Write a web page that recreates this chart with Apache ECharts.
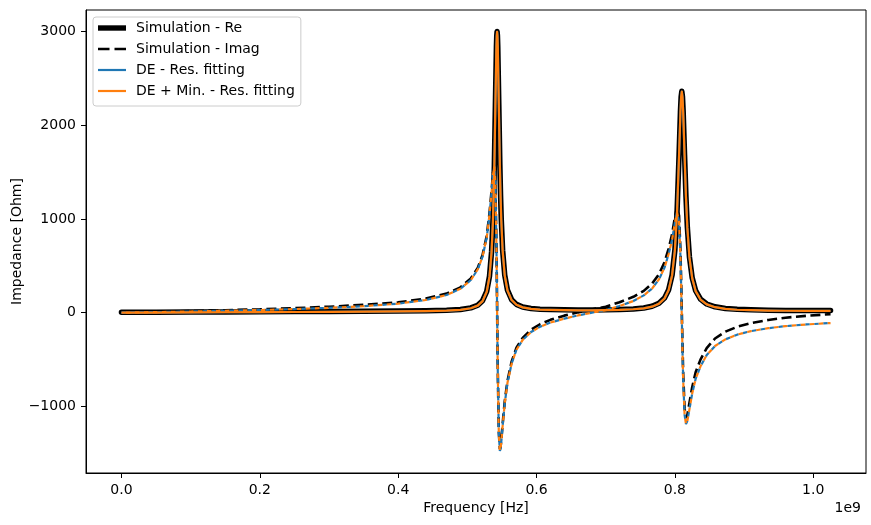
<!DOCTYPE html>
<html>
<head>
<meta charset="utf-8">
<title>Impedance</title>
<script src="https://cdn.jsdelivr.net/npm/echarts@6/dist/echarts.min.js"></script>
<style>
  html, body { margin: 0; padding: 0; background: #fff; }
  #chart { width: 871px; height: 525px; }
</style>
</head>
<body>
<div id="chart"></div>
<script>
// frequency in units of 1e9 Hz
var freq = [0, 0.05, 0.1, 0.15, 0.2, 0.25, 0.3, 0.35, 0.4, 0.44,
  0.47, 0.49, 0.505, 0.515, 0.522, 0.528, 0.532, 0.535, 0.537, 0.539,
  0.5405, 0.542, 0.5425, 0.543, 0.5435, 0.544, 0.5455, 0.547, 0.548, 0.549,
  0.551, 0.554, 0.558, 0.564, 0.571, 0.58, 0.592, 0.605, 0.62, 0.64,
  0.66, 0.68, 0.70, 0.72, 0.74, 0.755, 0.767, 0.777, 0.785, 0.791,
  0.796, 0.80, 0.803, 0.806, 0.808, 0.809, 0.81, 0.811, 0.812, 0.814,
  0.816, 0.818, 0.821, 0.825, 0.83, 0.837, 0.846, 0.858, 0.873, 0.89,
  0.91, 0.935, 0.96, 0.99, 1.025];

var simRe = [5, 6, 7, 9, 10, 12, 13, 16, 18, 21,
  27, 35, 52, 80, 128, 228, 389, 651, 985, 1568,
  2212, 2838, 2959, 3001, 2959, 2839, 2218, 1581, 1253, 1001,
  667, 403, 241, 139, 89, 61, 46, 38, 34, 31,
  30, 30, 31, 34, 41, 51, 69, 101, 156, 246,
  404, 671, 1052, 1678, 2143, 2304, 2363, 2304, 2145, 1683,
  1242, 912, 597, 373, 235, 145, 93, 63, 46, 36,
  31, 27, 25, 24, 23];

var simIm = [0, 9, 17, 27, 37, 49, 64, 84, 111, 151,
  204, 271, 365, 478, 616, 819, 1061, 1301, 1483, 1579,
  1400, 748, 420, 62, -297, -626, -1274, -1455, -1433, -1364,
  -1188, -950, -728, -521, -373, -268, -182, -123, -76, -31,
  4, 35, 64, 112, 170, 233, 310, 411, 539, 685,
  840, 1019, 1129, 1038, 668, 361, 8, -347, -652, -1021,
  -1124, -1090, -964, -795, -635, -500, -377, -275, -202, -150,
  -110, -77, -53, -33, -15];

var fitRe = [1, 2, 3, 5, 6, 8, 9, 12, 14, 17,
  23, 31, 48, 76, 124, 224, 385, 647, 981, 1564,
  2208, 2834, 2955, 2997, 2955, 2835, 2214, 1577, 1249, 997,
  663, 399, 237, 135, 85, 57, 42, 34, 30, 27,
  26, 26, 27, 30, 37, 47, 65, 97, 152, 242,
  400, 667, 1048, 1674, 2139, 2300, 2359, 2300, 2141, 1679,
  1238, 908, 593, 369, 231, 141, 89, 59, 42, 32,
  27, 23, 21, 20, 19];

var fitIm = [0, 7, 13, 21, 29, 39, 52, 70, 97, 136,
  189, 256, 349, 462, 599, 802, 1043, 1283, 1465, 1561,
  1382, 730, 402, 44, -315, -644, -1293, -1474, -1452, -1383,
  -1207, -970, -748, -543, -395, -290, -206, -150, -105, -63,
  -29, 1, 28, 72, 125, 185, 258, 356, 481, 627,
  780, 959, 1069, 976, 606, 299, -56, -411, -716, -1086,
  -1189, -1156, -1031, -863, -705, -572, -452, -355, -284, -234,
  -196, -165, -143, -125, -110];

var xTicks = [0, 0.2, 0.4, 0.6, 0.8, 1.0];
var yTicks = [-1000, 0, 1000, 2000, 3000];

function pairs(ys) {
  return freq.map(function (f, i) { return [f, ys[i]]; });
}

var FONT = 'DejaVu Sans';
var BLUE = '#1f77b4', ORANGE = '#ff7f0e';

// legend handles: the leading moves fix the 28x14 box, the filled part is the stroke
var ICON_THICK = 'path://M0,0M28,14M0,4.3H28V9.7H0Z';
var ICON_DASH = 'path://M0,0M28,14M0,5.7H11.5V8.3H0Z M16.5,5.7H28V8.3H16.5Z';
var ICON_THIN = 'path://M0,0M28,14M0,5.9H28V8.1H0Z';

var chart = echarts.init(document.getElementById('chart'), null, { renderer: 'canvas' });

var option = {
  animation: false,
  textStyle: { fontFamily: FONT },
  grid: {
    left: 86, right: 5, top: 10, bottom: 52,
    outerBoundsMode: 'none',
    show: true, borderColor: '#000', borderWidth: 1, backgroundColor: 'transparent'
  },
  legend: {
    orient: 'vertical',
    left: 93, top: 17,
    data: [
      { name: 'Simulation - Re', icon: ICON_THICK },
      { name: 'Simulation - Imag', icon: ICON_DASH },
      { name: 'DE - Res. fitting', icon: ICON_THIN },
      { name: 'DE + Min. - Res. fitting', icon: ICON_THIN }
    ],
    itemWidth: 28, itemHeight: 14, itemGap: 7,
    padding: [4, 6, 8, 5],
    backgroundColor: 'rgba(255,255,255,0.8)',
    borderColor: '#cccccc', borderWidth: 1, borderRadius: 3,
    textStyle: { fontFamily: FONT, fontSize: 14, color: '#000', padding: [0, 0, 0, 5] }
  },
  xAxis: {
    type: 'value',
    min: -0.05125, max: 1.07625,
    name: 'Frequency [Hz]', nameLocation: 'middle', nameGap: 28, nameMoveOverlap: false,
    nameTextStyle: { fontFamily: FONT, fontSize: 14, color: '#000' },
    axisLine: { show: true, onZero: false, lineStyle: { color: '#000', width: 1 } },
    axisTick: { show: true, length: 5, customValues: xTicks, lineStyle: { color: '#000' } },
    axisLabel: {
      customValues: xTicks, color: '#000', fontSize: 14, fontFamily: FONT, margin: 10,
      formatter: function (v) { return v.toFixed(1); }
    },
    splitLine: { show: false }
  },
  yAxis: {
    type: 'value',
    min: -1710, max: 3230,
    name: 'Impedance [Ohm]', nameLocation: 'middle', nameGap: 62, nameRotate: 90,
    nameMoveOverlap: false,
    nameTextStyle: { fontFamily: FONT, fontSize: 14, color: '#000' },
    axisLine: { show: true, onZero: false, lineStyle: { color: '#000', width: 1 } },
    axisTick: { show: true, length: 5, customValues: yTicks, lineStyle: { color: '#000' } },
    axisLabel: {
      customValues: yTicks, color: '#000', fontSize: 14, fontFamily: FONT, margin: 10,
      formatter: function (v) { return String(v).replace('-', '\u2212'); }
    },
    splitLine: { show: false }
  },
  graphic: [{
    type: 'text', right: 10, top: 501,
    style: { text: '1e9', fontFamily: FONT, fontSize: 14, fill: '#000' }
  }],
  series: [
    {
      name: 'Simulation - Re', type: 'line', symbol: 'none', data: pairs(simRe),
      lineStyle: { color: '#000', width: 5.5, cap: 'round', join: 'round' },
      itemStyle: { color: '#000' }, z: 1
    },
    {
      name: 'Simulation - Imag', type: 'line', symbol: 'none', data: pairs(simIm),
      lineStyle: { color: '#000', width: 2.6, type: [10, 4.5] },
      itemStyle: { color: '#000' }, z: 2
    },
    {
      name: 'DE - Res. fitting', type: 'line', symbol: 'none', data: pairs(fitRe),
      lineStyle: { color: BLUE, width: 2.2, join: 'round' },
      itemStyle: { color: BLUE }, z: 3
    },
    {
      name: 'DE - Res. fitting (Imag)', type: 'line', symbol: 'none', data: pairs(fitIm),
      lineStyle: { color: BLUE, width: 2.2, type: [4.5, 4.5] },
      itemStyle: { color: BLUE }, z: 4
    },
    {
      name: 'DE + Min. - Res. fitting', type: 'line', symbol: 'none', data: pairs(fitRe),
      lineStyle: { color: ORANGE, width: 2.2, join: 'round' },
      itemStyle: { color: ORANGE }, z: 5
    },
    {
      name: 'DE + Min. - Res. fitting (Imag)', type: 'line', symbol: 'none', data: pairs(fitIm),
      lineStyle: { color: ORANGE, width: 2.2, type: [4.5, 4.5], dashOffset: 4.5 },
      itemStyle: { color: ORANGE }, z: 6
    }
  ]
};

chart.setOption(option);
</script>
</body>
</html>
